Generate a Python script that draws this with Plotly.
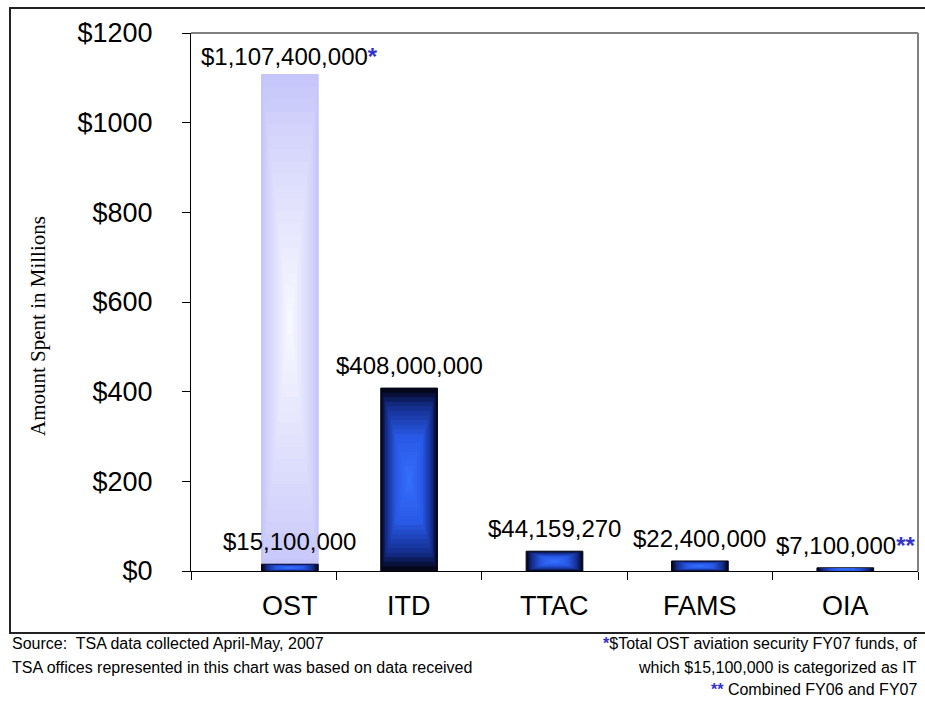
import plotly.graph_objects as go

# ---------------- data ----------------
categories = ["OST", "ITD", "TTAC", "FAMS", "OIA"]
it_spend_dollars = [15_100_000, 408_000_000, 44_159_270, 22_400_000, 7_100_000]
ost_total_dollars = [1_107_400_000]
label_marks = ["", "", "", "", "**"]
ost_total_mark = "*"
y_tick_values = [0, 200, 400, 600, 800, 1000, 1200]
y_tick_labels = ["$0", "$200", "$400", "$600", "$800", "$1000", "$1200"]

# ---------------- layout constants ----------------
W, H = 925, 702
L, R, T, B = 191, 7, 33, 131
PW, PH = W - L - R, H - T - B
FONT = "Liberation Sans, Arial, sans-serif"
SERIF = "Liberation Serif, Times New Roman, serif"
STAR = "#3333CC"

def px_x(p):
    return (p - L) / PW

def px_y(p):
    return (H - B - p) / PH

# category centres on a numeric axis (0..5); the OST group is drawn offset as in the original
cat_shift = [0.18, 0, 0, 0, 0]
positions = [i + 0.5 + s for i, s in enumerate(cat_shift)]
BAR_W = 0.39

it_m = [v / 1e6 for v in it_spend_dollars]
ost_m = [v / 1e6 for v in ost_total_dollars]


def ramp(stops, t):
    for (t0, c0), (t1, c1) in zip(stops, stops[1:]):
        if t <= t1:
            f = (t - t0) / (t1 - t0) if t1 > t0 else 0
            return "rgb(%d,%d,%d)" % tuple(round(a + (b - a) * f) for a, b in zip(c0, c1))
    return "rgb(%d,%d,%d)" % stops[-1][1]


dark_stops = [(0.0, (4, 6, 26)), (0.17, (20, 44, 138)), (0.5, (40, 88, 228)), (1.0, (54, 112, 255))]
light_stops = [(0.0, (198, 198, 250)), (0.25, (214, 214, 252)), (1.0, (250, 250, 255))]

N = 20
fig = go.Figure()


def add_gradient_bars(xs, vals, stops, name):
    for k in range(N):
        t = k / N
        fig.add_trace(go.Bar(
            x=xs,
            y=[v * (1 - t) for v in vals],
            base=[v * t / 2 for v in vals],
            width=[BAR_W * (1 - t)] * len(xs),
            marker=dict(color=ramp(stops, t),
                        line=dict(width=1 if k == 0 else 0, color=ramp(stops, 0))),
            showlegend=False,
            hoverinfo="skip" if k else "y",
            name=name,
        ))


add_gradient_bars([positions[0]], ost_m, light_stops, "OST total")
add_gradient_bars(positions, it_m, dark_stops, "IT spend")

annotations = []
# value labels
annotations.append(dict(
    x=positions[0], y=ost_m[0], xref="x", yref="y", yanchor="bottom", yshift=3,
    text="${:,}".format(ost_total_dollars[0]) + "<span style='color:%s'><b>%s</b></span>" % (STAR, ost_total_mark),
    showarrow=False, font=dict(family=FONT, size=24, color="black")))
for xpos, v, d, mark in zip(positions, it_m, it_spend_dollars, label_marks):
    txt = "${:,}".format(d)
    if mark:
        txt += "<span style='color:%s'><b>%s</b></span>" % (STAR, mark)
    annotations.append(dict(
        x=xpos, y=v, xref="x", yref="y", yanchor="bottom", yshift=7,
        text=txt, showarrow=False, font=dict(family=FONT, size=24, color="black")))

# category labels
for xpos, c in zip(positions, categories):
    annotations.append(dict(
        x=xpos, y=0, xref="x", yref="y", yanchor="top", yshift=-18,
        text=c, showarrow=False, font=dict(family=FONT, size=27, color="black")))

# y-axis title
annotations.append(dict(
    x=px_x(38), y=px_y(326), xref="paper", yref="paper", xanchor="center", yanchor="middle",
    text="Amount Spent in Millions", textangle=-90, showarrow=False,
    font=dict(family=SERIF, size=21, color="black")))

# footnotes
foot = dict(family=FONT, size=16, color="black")
annotations += [
    dict(x=px_x(10), y=px_y(643), xref="paper", yref="paper", xanchor="left", yanchor="middle",
         text="Source:  TSA data collected April-May, 2007", showarrow=False, font=foot),
    dict(x=px_x(10), y=px_y(667), xref="paper", yref="paper", xanchor="left", yanchor="middle",
         text="TSA offices represented in this chart was based on data received", showarrow=False, font=foot),
    dict(x=px_x(919), y=px_y(643), xref="paper", yref="paper", xanchor="right", yanchor="middle",
         text="<span style='color:%s'><b>*</b></span>$Total OST aviation security FY07 funds, of" % STAR,
         showarrow=False, font=foot),
    dict(x=px_x(919), y=px_y(667), xref="paper", yref="paper", xanchor="right", yanchor="middle",
         text="which $15,100,000 is categorized as IT", showarrow=False, font=foot),
    dict(x=px_x(919), y=px_y(690), xref="paper", yref="paper", xanchor="right", yanchor="middle",
         text="<span style='color:%s'><b>**</b></span> Combined FY06 and FY07" % STAR,
         showarrow=False, font=foot),
]

shapes = [
    # outer frame
    dict(type="rect", xref="paper", yref="paper", x0=px_x(10), x1=px_x(940), y0=px_y(633), y1=px_y(8),
         line=dict(color="#222222", width=2), layer="below"),
    # plot-area top and right border
    dict(type="line", xref="paper", yref="paper", x0=0, x1=1, y0=1, y1=1,
         line=dict(color="#808080", width=2)),
    dict(type="line", xref="paper", yref="paper", x0=1, x1=1, y0=0, y1=1,
         line=dict(color="#808080", width=2)),
]

fig.update_layout(
    width=W, height=H,
    margin=dict(l=L, r=R, t=T, b=B, pad=0),
    paper_bgcolor="white", plot_bgcolor="white",
    barmode="overlay",
    showlegend=False,
    annotations=annotations,
    shapes=shapes,
    xaxis=dict(range=[0, len(categories)], tickvals=list(range(len(categories) + 1)),
               showticklabels=False, ticks="outside", ticklen=8, tickcolor="black", tickwidth=1,
               showline=True, linecolor="black", linewidth=1,
               showgrid=False, zeroline=False, fixedrange=True),
    yaxis=dict(range=[0, 1200], tickvals=y_tick_values, ticktext=y_tick_labels,
               ticks="outside", ticklen=8, tickcolor="black", tickwidth=1,
               ticklabelstandoff=24,
               tickfont=dict(family=FONT, size=27, color="black"),
               showline=True, linecolor="black", linewidth=1,
               showgrid=False, zeroline=False, fixedrange=True),
)

fig.write_html("out.html")
